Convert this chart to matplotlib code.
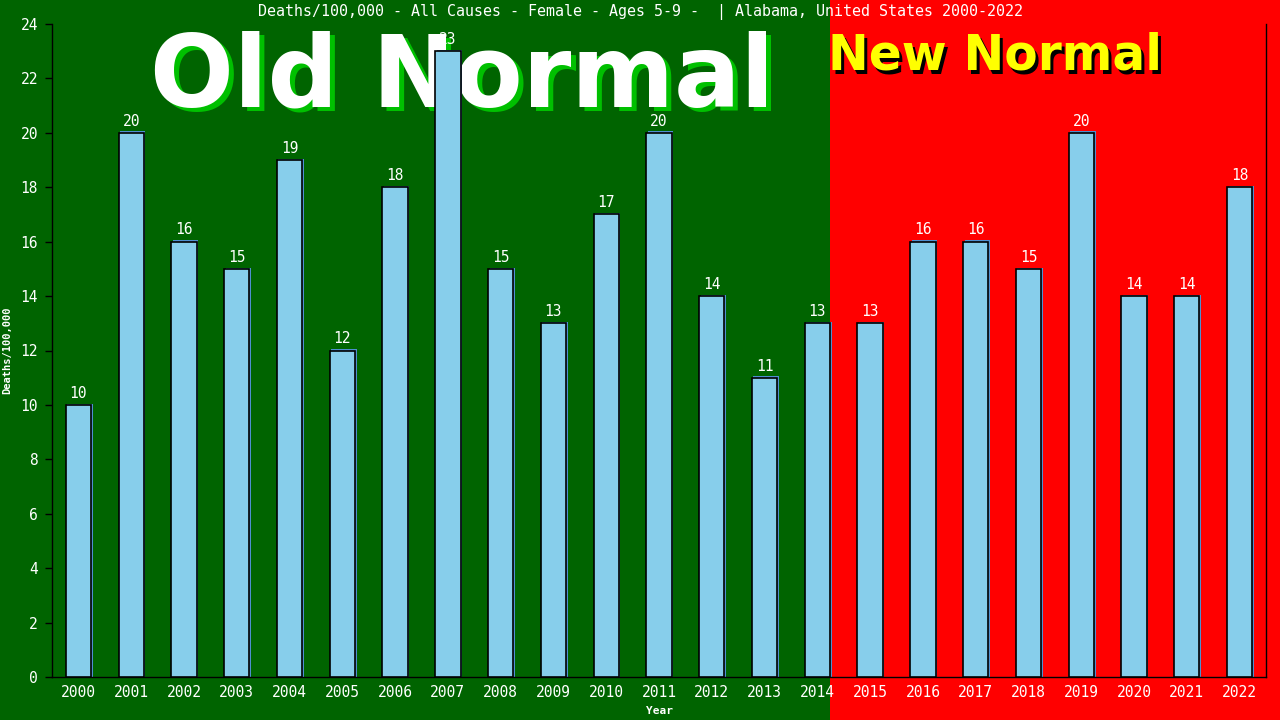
import matplotlib
matplotlib.use("Agg")
import matplotlib.pyplot as plt
import matplotlib.transforms as mtransforms
from matplotlib.patches import Rectangle

years = [str(y) for y in range(2000, 2023)]
values = [10, 20, 16, 15, 19, 12, 18, 23, 15, 13, 17, 20, 14, 11, 13,
          13, 16, 16, 15, 20, 14, 14, 18]
title = "Deaths/100,000 - All Causes - Female - Ages 5-9 -  | Alabama, United States 2000-2022"
ylabel = "Deaths/100,000"
xlabel = "Year"
yticks = list(range(0, 25, 2))

MONO = "DejaVu Sans Mono"
fig = plt.figure(figsize=(12.8, 7.2), dpi=100)
fig.patch.set_facecolor("#006400")

# red "new normal" background region
fig.patches.append(Rectangle((830 / 1280, 0), 1 - 830 / 1280, 1, transform=fig.transFigure,
                             facecolor="#ff0000", edgecolor="none", zorder=-3))

def shadow_text(x, y, s, color, shadow, dx, dy, **kw):
    off = mtransforms.ScaledTranslation(dx / 100, -dy / 100, fig.dpi_scale_trans)
    fig.text(x, y, s, color=shadow, transform=fig.transFigure + off, zorder=-2, **kw)
    fig.text(x, y, s, color=color, transform=fig.transFigure, zorder=-1, **kw)

shadow_text(462 / 1280, 1 - 107 / 720, "Old Normal", "white", "#00c000", 5, 3,
            fontsize=71, fontweight="bold", family="DejaVu Sans", ha="center", va="baseline")
shadow_text(995 / 1280, 1 - 70 / 720, "New Normal", "#ffff00", "black", 3, 3,
            fontsize=35, fontweight="bold", family="DejaVu Sans", ha="center", va="baseline")

ax = fig.add_axes([52 / 1280, 43 / 720, (1266 - 52) / 1280, (677 - 24) / 720])
ax.set_facecolor("none")
ax.set_zorder(0)

x = list(range(len(years)))
bw = 0.48
ax.bar([i + 0.03 for i in x], [v + 0.05 for v in values], width=bw, color="#4f8fd0",
       edgecolor="none", zorder=2)
ax.bar(x, values, width=bw, color="#87ceeb", edgecolor="black", linewidth=1.2, zorder=3)

for i, v in zip(x, values):
    ax.annotate(str(v), (i, v), xytext=(0, 3), textcoords="offset points",
                ha="center", va="bottom", color="white", family=MONO, fontsize=10.5, zorder=4)

ax.set_xlim(-0.5, len(years) - 0.5)
ax.set_ylim(0, 24)
ax.set_xticks(x)
ax.set_xticklabels(years, family=MONO, fontsize=10.5, color="white")
ax.set_yticks(yticks)
ax.set_yticklabels([str(t) for t in yticks], family=MONO, fontsize=10.5, color="white")
ax.tick_params(axis="x", length=0, pad=6)
ax.tick_params(axis="y", length=5, width=1, color="black", pad=5)

for s in ["left", "bottom", "right"]:
    ax.spines[s].set_color("black")
    ax.spines[s].set_linewidth(1)
ax.spines["top"].set_visible(False)

ax.set_ylabel(ylabel, family=MONO, fontsize=7.5, fontweight="bold", color="white", labelpad=6)
ax.set_xlabel(xlabel, family=MONO, fontsize=8, fontweight="bold", color="white", labelpad=4)

fig.text(0.5, 1 - 12 / 720, title, ha="center", va="center", color="white",
         family=MONO, fontsize=10.8)

fig.savefig("out.png", dpi=100, facecolor=fig.get_facecolor())
